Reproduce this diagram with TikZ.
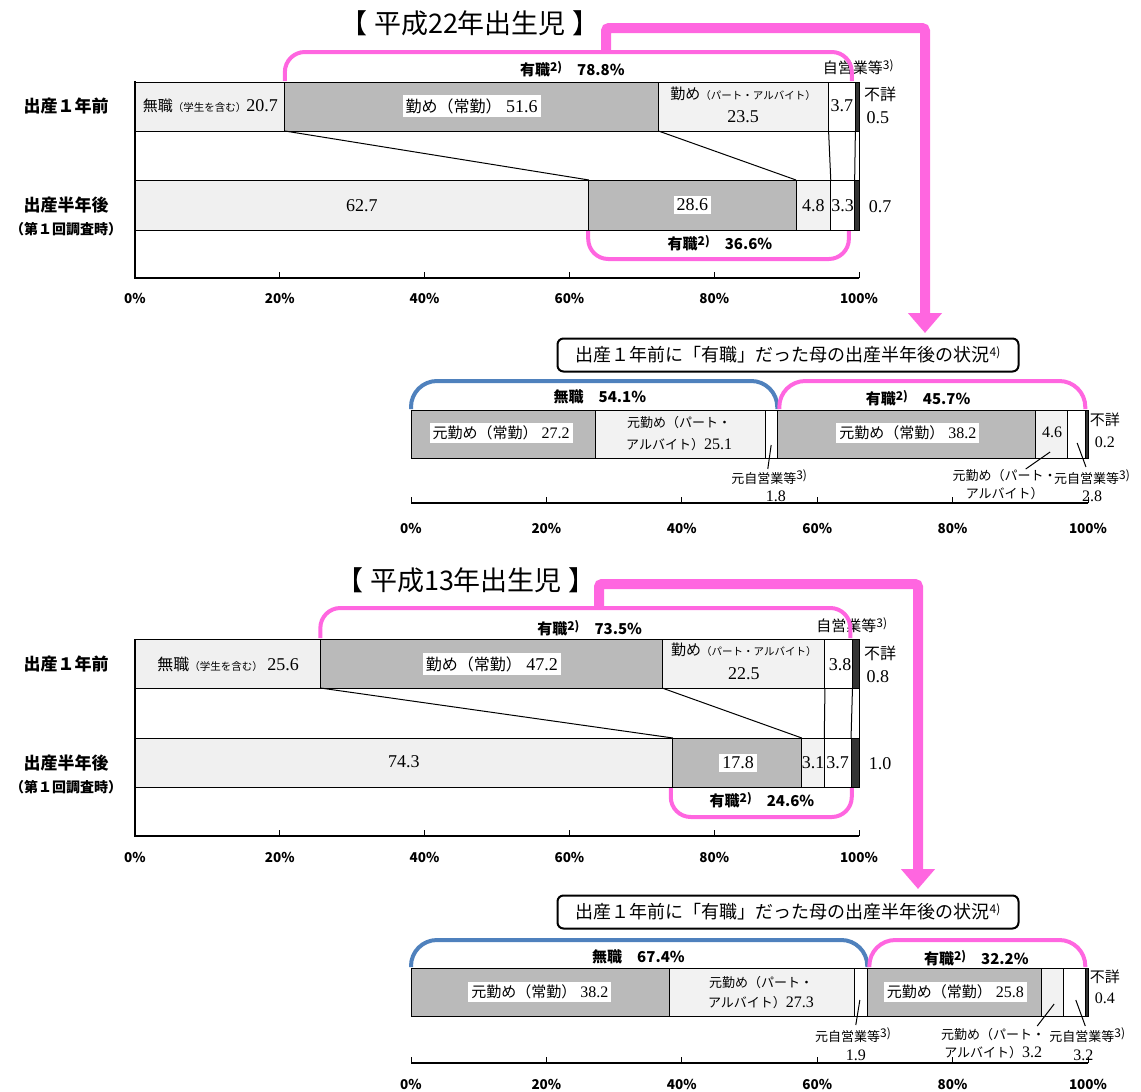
\documentclass[tikz,border=0pt]{standalone}
\usepackage{fontspec}
\setmainfont{Liberation Serif}
\newfontfamily\jp{Noto Sans CJK JP}
\usetikzlibrary{positioning,arrows.meta}
\definecolor{pinkline}{RGB}{255,102,224}
\definecolor{blueline}{RGB}{79,129,189}
\newcommand\sups[1]{\raisebox{0.55ex}{\fontsize{12}{12}\selectfont #1}}
\newcommand\smjp[1]{{\jp\fontsize{10.5}{11}\selectfont #1}}
\newcommand\jsz[2]{{\jp\fontsize{#1}{#1}\selectfont #2}}
\tikzset{seg/.style={draw=black,line width=1pt},
  seg nw/.style={seg,fill=black!6},
  seg ft/.style={seg,fill=black!27},
  seg pt/.style={seg,fill=black!5},
  seg se/.style={seg,fill=white},
  seg un/.style={seg,fill=black!80},
  val/.style={font=\fontsize{18}{18}\selectfont,inner sep=1pt},
  wval/.style={val,fill=white,inner sep=3pt},
  sub val/.style={font=\fontsize{16}{16}\selectfont,inner sep=1pt},
  call/.style={font=\jp\fontsize{13}{13}\selectfont,inner sep=1pt},
  row label/.style={font=\jp\bfseries\fontsize{17}{17}\selectfont},
  brace label/.style={font=\jp\bfseries\fontsize{15}{15}\selectfont},
  tick label/.style={font=\jp\bfseries\fontsize{13.5}{13.5}\selectfont},
  title label/.style={font=\jp\fontsize{27}{27}\selectfont},
  pink brace/.style={draw=pinkline,line width=4pt,rounded corners=20pt},
  sub brace/.style={line width=4pt,rounded corners=26pt},
  big arrow/.style={draw=pinkline,line width=10pt,rounded corners=3pt,-{Triangle[length=20pt,width=33pt]}},
  sub title/.style={draw=black,line width=2pt,rounded corners=6pt,minimum width=461pt,minimum height=33pt,font=\jp\fontsize{18}{18}\selectfont},
  leader/.style={line width=1pt},
}
\begin{document}
\begin{tikzpicture}[x=1pt,y=-1pt]
\useasboundingbox (0,0) rectangle (1141,1092);

\node[title label] (ttlA) at (470,23) {【\ 平成22年出生児\ 】};
\node[row label] (rowA1) at (66,106) {出産１年前};
\node[row label] (rowA2) at (66,205) {出産半年後};
\node[row label,font=\jp\bfseries\fontsize{14}{14}\selectfont] (rowA3) at (66,229) {（第１回調査時）};
\begin{scope}[shift={(135,0)},x=7.24pt]
  \draw[line width=1.5pt] (0,81) -- (0,278) -- (100,278);
  \foreach \t [count=\i] in {0,20,...,100} {
    \draw[line width=1pt] (\t,278) -- (\t,272);
    \node[tick label] (atk\i) at (\t,298) {\t\%};
  }
  \foreach \a/\b/\s in {0/20.7/nw,20.7/72.3/ft,72.3/95.8/pt,95.8/99.5/se,99.5/100/un}
    \draw[seg \s] (\a,82) rectangle (\b,131);
  \foreach \a/\b/\s in {0/62.7/nw,62.7/91.3/ft,91.3/96.1/pt,96.1/99.4/se,99.4/100/un}
    \draw[seg \s] (\a,180) rectangle (\b,230);
  \foreach \a/\b [count=\i] in {20.7/62.7,72.3/91.3,95.8/96.1,99.5/99.4,100/100} {
    \coordinate (aup\i) at (\a,131);
    \coordinate (alo\i) at (\b,180);
    \draw[line width=1pt] (aup\i) -- (alo\i);
  }
  \node[val] (a nw) at (10.4,106) {\jsz{15}{無職}\smjp{（学生を含む）}20.7};
  \node[wval] (a ft) at (46.5,106) {\jsz{16}{勤め（常勤）} 51.6};
  \node[val] (a pt1) at (84.0,94) {\jsz{15}{勤め}\smjp{（パート・アルバイト）}};
  \node[val] (a pt2) at (84.0,117) {23.5};
  \node[val] (a se) at (97.65,106) {3.7};
  \node[val,font=\jp\fontsize{16}{16}\selectfont] (a un1) at (102.9,94) {不詳};
  \node[val] (a un2) at (102.6,118) {0.5};
  \node[call,font=\jp\fontsize{15}{15}\selectfont] (a se3) at (99.9,67) {自営業等\sups{3)}};
  \node[val] (b nw) at (31.35,206) {62.7};
  \node[wval] (b ft) at (77,205) {28.6};
  \node[val] (b pt) at (93.7,206) {4.8};
  \node[val] (b se) at (97.75,206) {3.3};
  \node[val] (b un) at (102.9,207) {0.7};
  \coordinate (abr1) at (20.7,81);
  \coordinate (abr2) at (20.7,52);
  \coordinate (abr3) at (99,52);
  \coordinate (abr4) at (99,81);
  \draw[pink brace] (abr1) -- (abr2) -- (abr3) -- (abr4);
  \node[brace label] (a job) at (60.4,69) {有職\sups{2)}\quad 78.8\%};
  \coordinate (bbr1) at (62.6,231);
  \coordinate (bbr2) at (62.6,259);
  \coordinate (bbr3) at (98.6,259);
  \coordinate (bbr4) at (98.6,231);
  \draw[pink brace] (bbr1) -- (bbr2) -- (bbr3) -- (bbr4);
  \node[brace label] (b job) at (80.8,243) {有職\sups{2)}\quad 36.6\%};
\end{scope}

\node[sub title] (stA) at (788,355) {出産１年前に「有職」だった母の出産半年後の状況\sups{4)}};
\coordinate (arrA0) at (606,52);
\coordinate (arrA1) at (606,28);
\coordinate (arrA2) at (925,28);
\coordinate (arrA3) at (925,333);
\draw[big arrow] (arrA0) -- (arrA1) -- (arrA2) -- (arrA3);
\begin{scope}[shift={(411,0)},x=6.77pt]
  \draw[line width=1.5pt] (0,503) -- (100,503);
  \foreach \t [count=\i] in {0,20,...,100} {
    \draw[line width=1pt] (\t,503) -- (\t,497);
    \node[tick label] (ctk\i) at (\t,528) {\t\%};
  }
  \foreach \a/\b/\s in {0/27.2/ft,27.2/52.3/pt,52.3/54.1/se,54.1/92.3/ft,92.3/96.9/pt,96.9/99.7/se,99.7/100/un}
    \draw[seg \s] (\a,410) rectangle (\b,458);
  \coordinate (cbl1) at (0,409);
  \coordinate (cbl2) at (0,381);
  \coordinate (cbl3) at (54.1,381);
  \coordinate (cbl4) at (54.1,409);
  \draw[sub brace,draw=blueline] (cbl1) -- (cbl2) -- (cbl3) -- (cbl4);
  \coordinate (cpk1) at (54.4,409);
  \coordinate (cpk2) at (54.4,381);
  \coordinate (cpk3) at (99.6,381);
  \coordinate (cpk4) at (99.6,409);
  \draw[sub brace,draw=pinkline] (cpk1) -- (cpk2) -- (cpk3) -- (cpk4);
  \node[brace label] (c nw) at (27.9,397) {無職\quad 54.1\%};
  \node[brace label] (c job) at (74.9,398) {有職\sups{2)}\quad 45.7\%};
  \node[wval,font=\fontsize{16}{16}\selectfont] (c ft1) at (13.3,433) {\jsz{15}{元勤め（常勤）} 27.2};
  \node[call] (c pt1a) at (39.6,423) {元勤め（パート・};
  \node[sub val] (c pt1b) at (39.6,445) {\jsz{13}{アルバイト）}25.1};
  \node[wval,font=\fontsize{16}{16}\selectfont] (c ft2) at (73.4,433) {\jsz{15}{元勤め（常勤）} 38.2};
  \node[sub val] (c pt2) at (94.7,432) {4.6};
  \node[call,font=\jp\fontsize{15}{15}\selectfont] (c un1) at (102.5,420) {不詳};
  \node[sub val] (c un2) at (102.5,442) {0.2};
  \node[call] (c se1) at (52.9,477) {元自営業等\sups{3)}};
  \node[sub val] (c se1v) at (53.9,496) {1.8};
  \node[call] (c pt3a) at (87.7,476) {元勤め（パート・};
  \node[call] (c pt3b) at (87.7,494) {アルバイト）};
  \node[call] (c se2) at (100.6,477) {元自営業等\sups{3)}};
  \node[sub val] (c se2v) at (100.6,496) {2.8};
  \coordinate (cl1a) at (53.2,445);
  \coordinate (cl1b) at (52.7,469);
  \coordinate (cl2a) at (94.4,452);
  \coordinate (cl2b) at (90.8,469);
  \coordinate (cl3a) at (98.4,443);
  \coordinate (cl3b) at (99.7,467);
  \draw[leader] (cl1a) -- (cl1b);
  \draw[leader] (cl2a) -- (cl2b);
  \draw[leader] (cl3a) -- (cl3b);
\end{scope}

\node[title label] (ttlB) at (466,580) {【\ 平成13年出生児\ 】};
\node[row label] (rowB1) at (66,664) {出産１年前};
\node[row label] (rowB2) at (66,763) {出産半年後};
\node[row label,font=\jp\bfseries\fontsize{14}{14}\selectfont] (rowB3) at (66,787) {（第１回調査時）};
\begin{scope}[shift={(135,0)},x=7.24pt]
  \draw[line width=1.5pt] (0,639) -- (0,836) -- (100,836);
  \foreach \t [count=\i] in {0,20,...,100} {
    \draw[line width=1pt] (\t,836) -- (\t,830);
    \node[tick label] (dtk\i) at (\t,857) {\t\%};
  }
  \foreach \a/\b/\s in {0/25.6/nw,25.6/72.8/ft,72.8/95.3/pt,95.3/99.1/se,99.1/100/un}
    \draw[seg \s] (\a,639) rectangle (\b,688);
  \foreach \a/\b/\s in {0/74.3/nw,74.3/92.1/ft,92.1/95.2/pt,95.2/98.9/se,98.9/100/un}
    \draw[seg \s] (\a,738) rectangle (\b,787);
  \foreach \a/\b [count=\i] in {25.6/74.3,72.8/92.1,95.3/95.2,99.1/98.9,100/100} {
    \coordinate (dup\i) at (\a,688);
    \coordinate (dlo\i) at (\b,738);
    \draw[line width=1pt] (dup\i) -- (dlo\i);
  }
  \node[val] (d nw) at (12.85,664) {\jsz{16}{無職}\smjp{（学生を含む）} 25.6};
  \node[wval] (d ft) at (49.3,664) {\jsz{16}{勤め（常勤）} 47.2};
  \node[val] (d pt1) at (84.1,650) {\jsz{15}{勤め}\smjp{（パート・アルバイト）}};
  \node[val] (d pt2) at (84.1,674) {22.5};
  \node[val] (d se) at (97.4,665) {3.8};
  \node[val,font=\jp\fontsize{16}{16}\selectfont] (d un1) at (102.9,653) {不詳};
  \node[val] (d un2) at (102.6,677) {0.8};
  \node[call,font=\jp\fontsize{15}{15}\selectfont] (d se3) at (99.0,625) {自営業等\sups{3)}};
  \node[val] (e nw) at (37.15,762) {74.3};
  \node[wval] (e ft) at (83.3,763) {17.8};
  \node[val] (e pt) at (93.65,763) {3.1};
  \node[val] (e se) at (97.05,763) {3.7};
  \node[val] (e un) at (102.9,764) {1.0};
  \coordinate (dbr1) at (25.6,638);
  \coordinate (dbr2) at (25.6,608);
  \coordinate (dbr3) at (98.8,608);
  \coordinate (dbr4) at (98.8,638);
  \draw[pink brace] (dbr1) -- (dbr2) -- (dbr3) -- (dbr4);
  \node[brace label] (d job) at (62.8,628) {有職\sups{2)}\quad 73.5\%};
  \coordinate (ebr1) at (74.0,788);
  \coordinate (ebr2) at (74.0,817);
  \coordinate (ebr3) at (99.0,817);
  \coordinate (ebr4) at (99.0,788);
  \draw[pink brace] (ebr1) -- (ebr2) -- (ebr3) -- (ebr4);
  \node[brace label] (e job) at (86.6,800) {有職\sups{2)}\quad 24.6\%};
\end{scope}

\node[sub title] (stB) at (788,912) {出産１年前に「有職」だった母の出産半年後の状況\sups{4)}};
\coordinate (arrB0) at (599,608);
\coordinate (arrB1) at (599,584);
\coordinate (arrB2) at (918,584);
\coordinate (arrB3) at (918,889);
\draw[big arrow] (arrB0) -- (arrB1) -- (arrB2) -- (arrB3);
\begin{scope}[shift={(411,0)},x=6.77pt]
  \draw[line width=1.5pt] (0,1063) -- (100,1063);
  \foreach \t [count=\i] in {0,20,...,100} {
    \draw[line width=1pt] (\t,1063) -- (\t,1057);
    \node[tick label] (ftk\i) at (\t,1084) {\t\%};
  }
  \foreach \a/\b/\s in {0/38.2/ft,38.2/65.5/pt,65.5/67.4/se,67.4/93.2/ft,93.2/96.4/pt,96.4/99.6/se,99.6/100/un}
    \draw[seg \s] (\a,968) rectangle (\b,1016);
  \coordinate (fbl1) at (0,967);
  \coordinate (fbl2) at (0,940);
  \coordinate (fbl3) at (67.4,940);
  \coordinate (fbl4) at (67.4,967);
  \draw[sub brace,draw=blueline] (fbl1) -- (fbl2) -- (fbl3) -- (fbl4);
  \coordinate (fpk1) at (67.7,967);
  \coordinate (fpk2) at (67.7,940);
  \coordinate (fpk3) at (99.6,940);
  \coordinate (fpk4) at (99.6,967);
  \draw[sub brace,draw=pinkline] (fpk1) -- (fpk2) -- (fpk3) -- (fpk4);
  \node[brace label] (f nw) at (33.6,957) {無職\quad 67.4\%};
  \node[brace label] (f job) at (83.5,958) {有職\sups{2)}\quad 32.2\%};
  \node[wval,font=\fontsize{16}{16}\selectfont] (f ft1) at (19.05,992) {\jsz{15}{元勤め（常勤）} 38.2};
  \node[call] (f pt1a) at (51.7,983) {元勤め（パート・};
  \node[sub val] (f pt1b) at (51.7,1003) {\jsz{13}{アルバイト）}27.3};
  \node[wval,font=\fontsize{16}{16}\selectfont] (f ft2) at (80.4,992) {\jsz{15}{元勤め（常勤）} 25.8};
  \node[call,font=\jp\fontsize{15}{15}\selectfont] (f un1) at (102.5,977) {不詳};
  \node[sub val] (f un2) at (102.5,998) {0.4};
  \node[call] (f se1) at (65.3,1035) {元自営業等\sups{3)}};
  \node[sub val] (f se1v) at (65.7,1055) {1.9};
  \node[call] (f pt3a) at (86.0,1035) {元勤め（パート・};
  \node[sub val] (f pt3b) at (86.0,1053) {\jsz{13}{アルバイト）}3.2};
  \node[call] (f se2) at (99.9,1035) {元自営業等\sups{3)}};
  \node[sub val] (f se2v) at (99.3,1055) {3.2};
  \coordinate (fl1a) at (66.3,1000);
  \coordinate (fl1b) at (65.7,1025);
  \coordinate (fl2a) at (95.0,1004);
  \coordinate (fl2b) at (92.5,1026);
  \coordinate (fl3a) at (98.2,1000);
  \coordinate (fl3b) at (99.6,1026);
  \draw[leader] (fl1a) -- (fl1b);
  \draw[leader] (fl2a) -- (fl2b);
  \draw[leader] (fl3a) -- (fl3b);
\end{scope}
\end{tikzpicture}
\end{document}
